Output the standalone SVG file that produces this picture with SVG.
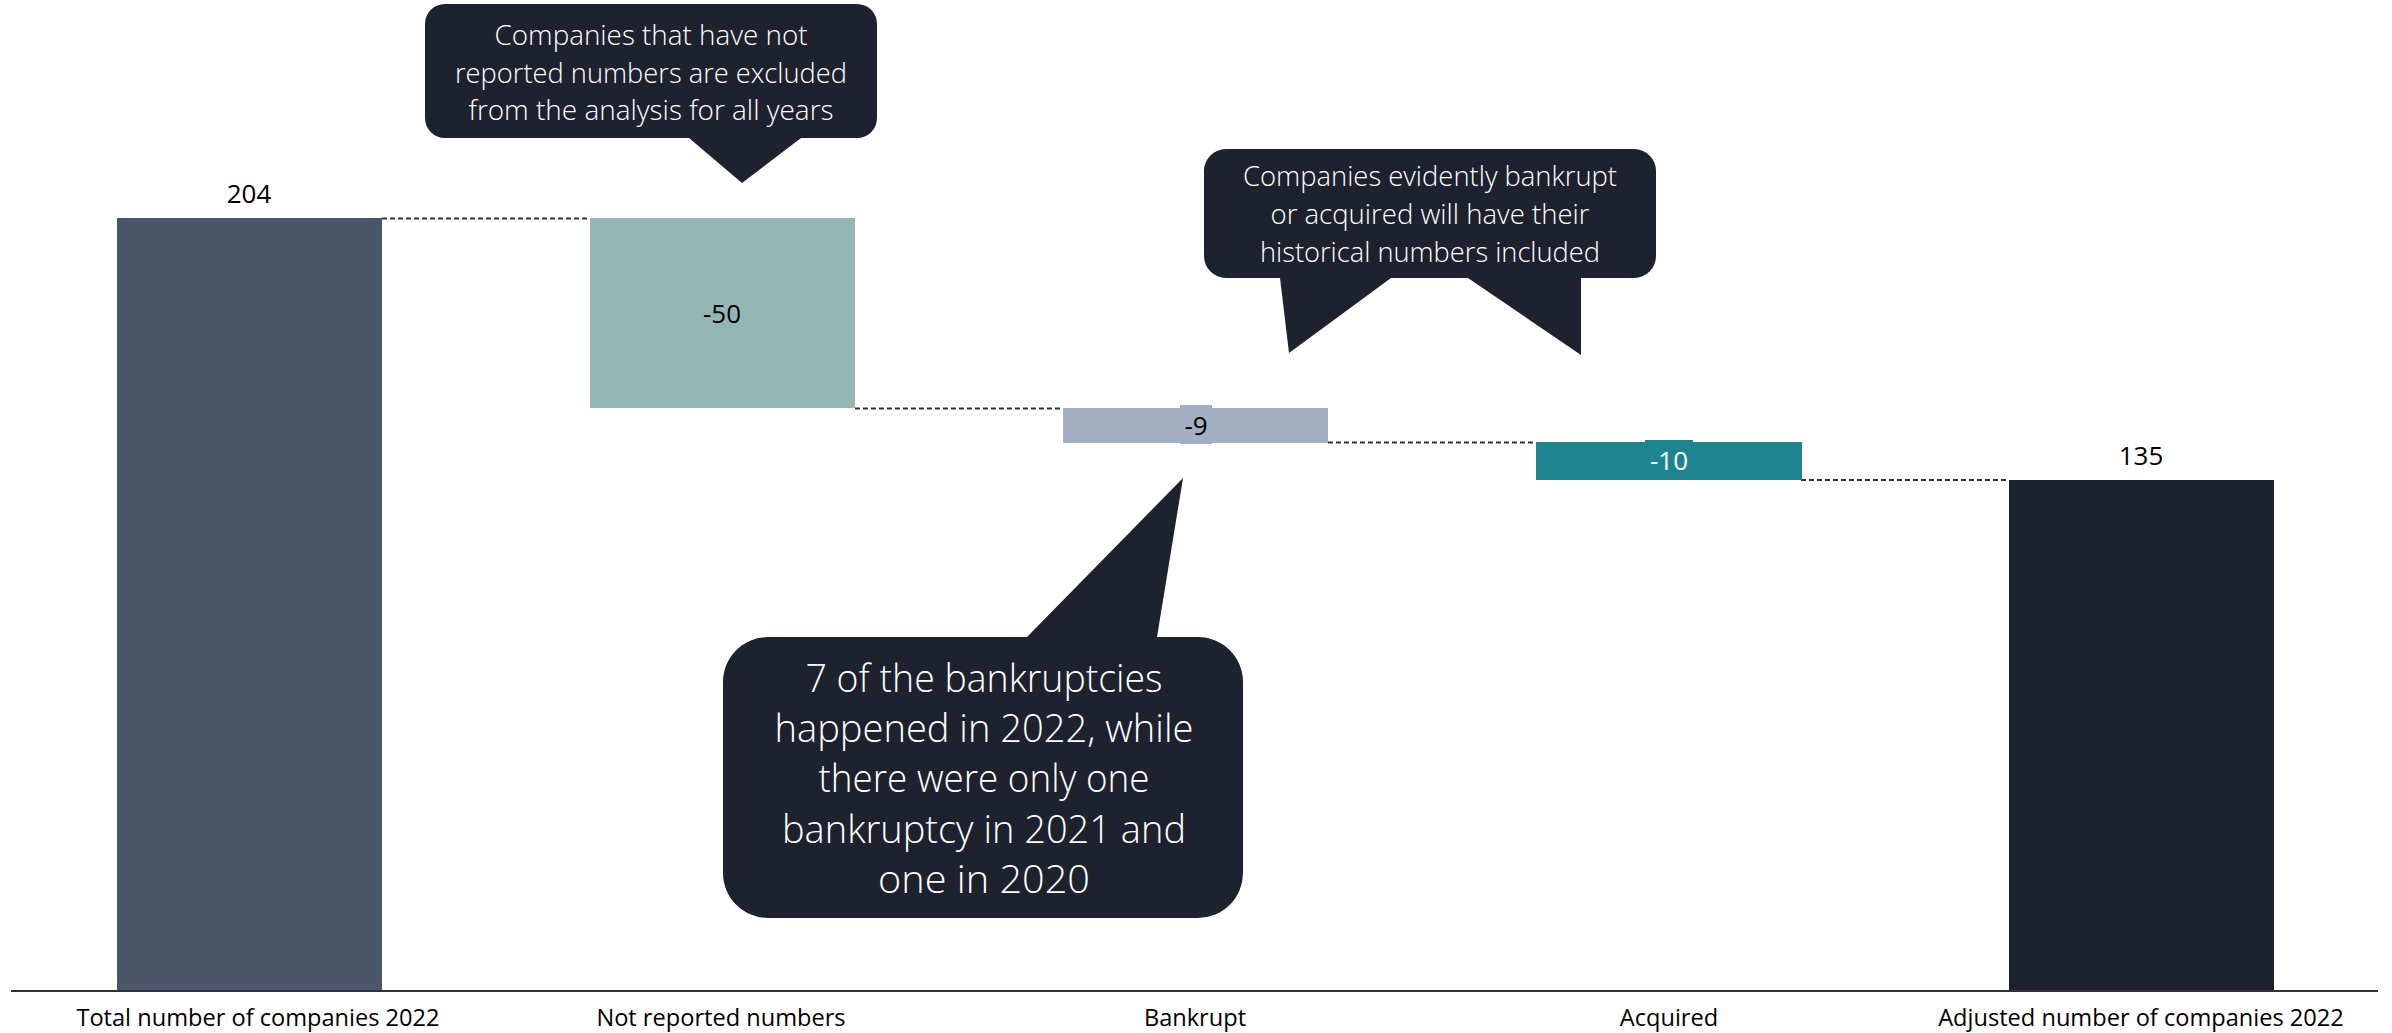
<svg xmlns="http://www.w3.org/2000/svg" width="2392" height="1033" viewBox="0 0 2392 1033">
  <style>
    .lbl { font-family: "Open Sans", "Liberation Sans", sans-serif; font-size: 23.6px; fill: #000; text-anchor: middle; }
    .val { font-family: "Open Sans", "Liberation Sans", sans-serif; font-size: 26px; fill: #000; text-anchor: middle; }
    .co { font-family: "Open Sans", "Liberation Sans", sans-serif; font-weight: 300; fill: #fff; text-anchor: middle; }
    .callout { fill: #1d222e; }
    .dash { stroke: #333; stroke-width: 2; stroke-dasharray: 5 3; fill: none; }
  </style>
  <rect width="2392" height="1033" fill="#fff"/>

  <g id="connectors">
    <line class="dash" x1="382" y1="218.5" x2="590" y2="218.5"/>
    <line class="dash" x1="855" y1="408.5" x2="1063" y2="408.5"/>
    <line class="dash" x1="1328" y1="442.5" x2="1536" y2="442.5"/>
    <line class="dash" x1="1801" y1="480" x2="2009" y2="480"/>
  </g>

  <g id="bar-total">
    <rect x="117" y="218" width="265" height="773" fill="#4a5669"/>
    <text class="val" x="249" y="203">204</text>
    <text class="lbl" x="258" y="1026">Total number of companies 2022</text>
  </g>

  <g id="bar-not-reported">
    <rect x="590" y="218" width="265" height="190" fill="#93b6b3"/>
    <text class="val" x="722" y="323">-50</text>
    <text class="lbl" x="721" y="1026">Not reported numbers</text>
  </g>

  <g id="bar-bankrupt">
    <rect x="1063" y="408" width="265" height="35" fill="#a3afc2"/>
    <rect x="1180" y="405" width="32" height="39" fill="#a3afc2"/>
    <text class="val" x="1196" y="435">-9</text>
    <text class="lbl" x="1195" y="1026">Bankrupt</text>
  </g>

  <g id="bar-acquired">
    <rect x="1536" y="442" width="266" height="38" fill="#1e8490"/>
    <rect x="1645" y="440" width="48" height="40" fill="#1e8490"/>
    <text class="val" x="1669" y="470" style="fill:#fff">-10</text>
    <text class="lbl" x="1669" y="1026">Acquired</text>
  </g>

  <g id="bar-adjusted">
    <rect x="2009" y="480" width="265" height="511" fill="#1c212d"/>
    <text class="val" x="2141" y="465">135</text>
    <text class="lbl" x="2141" y="1026">Adjusted number of companies 2022</text>
  </g>

  <g id="axis">
    <line x1="11" y1="991" x2="2378" y2="991" stroke="#333" stroke-width="2"/>
  </g>

  <g id="callout-not-reported">
    <path class="callout" d="M445,4 H857 A20,20 0 0 1 877,24 V118 A20,20 0 0 1 857,138 H801 L742,183 L689,138 H445 A20,20 0 0 1 425,118 V24 A20,20 0 0 1 445,4 Z"/>
    <text class="co" font-size="28" x="651" y="45" textLength="313" lengthAdjust="spacingAndGlyphs">Companies that have not</text>
    <text class="co" font-size="28" x="651" y="83" textLength="392" lengthAdjust="spacingAndGlyphs">reported numbers are excluded</text>
    <text class="co" font-size="28" x="651" y="120" textLength="365" lengthAdjust="spacingAndGlyphs">from the analysis for all years</text>
  </g>

  <g id="callout-bankrupt-acquired">
    <path class="callout" d="M1226,149 H1634 A22,22 0 0 1 1656,171 V256 A22,22 0 0 1 1634,278 H1581 V355 L1468,278 H1391 L1289,353 L1280,278 H1226 A22,22 0 0 1 1204,256 V171 A22,22 0 0 1 1226,149 Z"/>
    <text class="co" font-size="28" x="1430" y="186" textLength="374" lengthAdjust="spacingAndGlyphs">Companies evidently bankrupt</text>
    <text class="co" font-size="28" x="1430" y="224" textLength="319" lengthAdjust="spacingAndGlyphs">or acquired will have their</text>
    <text class="co" font-size="28" x="1430" y="262" textLength="340" lengthAdjust="spacingAndGlyphs">historical numbers included</text>
  </g>

  <g id="callout-bankruptcies">
    <path class="callout" d="M768,637 H1027 L1183,478 L1157,637 H1198 A45,45 0 0 1 1243,682 V873 A45,45 0 0 1 1198,918 H768 A45,45 0 0 1 723,873 V682 A45,45 0 0 1 768,637 Z"/>
    <text class="co" font-size="39" x="984" y="692" textLength="357" lengthAdjust="spacingAndGlyphs">7 of  the bankruptcies</text>
    <text class="co" font-size="39" x="984" y="742" textLength="419" lengthAdjust="spacingAndGlyphs">happened in 2022, while</text>
    <text class="co" font-size="39" x="984" y="792" textLength="331" lengthAdjust="spacingAndGlyphs">there were only one</text>
    <text class="co" font-size="39" x="984" y="843" textLength="404" lengthAdjust="spacingAndGlyphs">bankruptcy in 2021 and</text>
    <text class="co" font-size="39" x="984" y="893" textLength="212" lengthAdjust="spacingAndGlyphs">one in 2020</text>
  </g>
</svg>
